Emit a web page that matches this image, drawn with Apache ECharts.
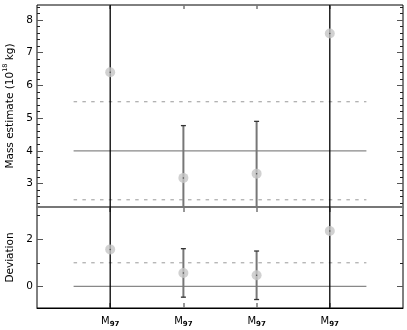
<!DOCTYPE html>
<html><head><meta charset="utf-8">
<script src="https://cdn.jsdelivr.net/npm/echarts@6/dist/echarts.min.js"></script>
<style>html,body{margin:0;padding:0;background:#fff}#c{width:407px;height:330px}</style>
</head><body><div id="c"></div>
<script>
// ---- data ----
const categories = ['M97', 'M97', 'M97', 'M97'];
const xPos = [1, 2, 3, 4];
const massValues = [6.40, 3.17, 3.30, 7.59];
const massErrors = [20, 1.60, 1.60, 20];
const devValues = [1.57, 0.57, 0.47, 2.35];
const devErrors = [20, 1.03, 1.03, 20];
const massRefSolid = [4];
const massRefDashed = [5.5, 2.5];
const devRefSolid = [0];
const devRefDashed = [1];
const refRange = [0.5, 4.5];
const massMajorTicks = [3, 4, 5, 6, 7, 8];
const massMinorTicks = [2.4, 2.6, 2.8, 3.2, 3.4, 3.6, 3.8, 4.2, 4.4, 4.6, 4.8, 5.2, 5.4, 5.6, 5.8,
  6.2, 6.4, 6.6, 6.8, 7.2, 7.4, 7.6, 7.8, 8.2, 8.4];
const devMajorTicks = [0, 2];
const devMinorTicks = [1, 3];
const massRange = [2.28, 8.46];
const devRange = [-0.92, 3.37];
const xRange = [0, 5];

// ---- styles ----
const FONT = 'DejaVu Sans';
const blackBar = [true, false, false, true];

function errorBarItem(params, api) {
  const x = api.value(0), y = api.value(1), e = api.value(2), i = api.value(3);
  const cs = params.coordSys;
  const p0 = api.coord([x, y + e]), p1 = api.coord([x, y - e]);
  const yTop = Math.max(p0[1], cs.y), yBot = Math.min(p1[1], cs.y + cs.height);
  const big = blackBar[i];
  const children = [{
    type: 'line',
    shape: { x1: p0[0], y1: yTop, x2: p0[0], y2: yBot },
    style: { stroke: big ? '#000' : '#777', lineWidth: big ? 1.3 : 2 }
  }];
  const cap = 2.5;
  if (p0[1] >= cs.y) children.push({ type: 'line', shape: { x1: p0[0] - cap, y1: p0[1], x2: p0[0] + cap, y2: p0[1] }, style: { stroke: '#333', lineWidth: 1.3 } });
  if (p1[1] <= cs.y + cs.height) children.push({ type: 'line', shape: { x1: p1[0] - cap, y1: p1[1], x2: p1[0] + cap, y2: p1[1] }, style: { stroke: '#333', lineWidth: 1.3 } });
  return { type: 'group', children };
}

function refLines(vals, xi, yi, dashed) {
  return vals.map(v => ({
    type: 'line', xAxisIndex: xi, yAxisIndex: yi, silent: true, symbol: 'none', z: 1,
    data: [[refRange[0], v], [refRange[1], v]],
    lineStyle: dashed ? { color: '#999', width: 1, type: [3.5, 5.3] } : { color: '#888', width: 1.3 }
  }));
}

function yAx(grid, pos, range, ticks, len, opts) {
  return Object.assign({
    type: 'value', gridIndex: grid, position: pos, min: range[0], max: range[1],
    axisLine: { show: false, onZero: false }, splitLine: { show: false },
    axisTick: { show: true, inside: true, length: len, customValues: ticks, lineStyle: { color: len > 4 ? '#555' : '#222', width: 1 } },
    axisLabel: { show: false }
  }, opts || {});
}

function xAx(grid, pos, opts) {
  return Object.assign({
    type: 'value', gridIndex: grid, min: xRange[0], max: xRange[1], position: pos,
    axisLine: { show: false, onZero: false }, splitLine: { show: false },
    axisTick: { show: true, inside: true, length: 4, customValues: xPos, lineStyle: { color: '#777', width: 1.5 } },
    axisLabel: { show: false }
  }, opts || {});
}

const labelStyle = { color: '#000', fontFamily: FONT, fontSize: 10.5 };

const option = {
  animation: false,
  backgroundColor: '#fff',
  grid: [
    { left: 37, top: 5, width: 366, height: 202, containLabel: false, outerBoundsMode: 'none', show: true, borderColor: '#000', borderWidth: 1 },
    { left: 37, top: 207, width: 366, height: 101, containLabel: false, outerBoundsMode: 'none', show: true, borderColor: '#000', borderWidth: 1 }
  ],
  xAxis: [
    xAx(0, 'bottom', { axisLine: { show: true, onZero: false, lineStyle: { color: '#777', width: 2 } }, axisTick: { show: false } }),
    xAx(1, 'bottom', {
      axisLine: { show: true, onZero: false, lineStyle: { color: '#000', width: 1 } },
      axisTick: { show: true, inside: true, length: 5, customValues: xPos, lineStyle: { color: '#777', width: 1.5 } },
      axisLabel: {
        show: true, customValues: xPos, margin: 6,
        formatter: v => { const i = xPos.indexOf(v); const c = categories[i] || ''; return '{m|' + c.charAt(0) + '}{s|' + c.slice(1) + '}'; },
        rich: {
          m: { fontFamily: FONT, fontSize: 10, color: '#000', lineHeight: 14, verticalAlign: 'middle' },
          s: { fontFamily: FONT, fontSize: 7, color: '#000', lineHeight: 14, verticalAlign: 'bottom', fontWeight: 'bold' }
        }
      }
    }),
    xAx(1, 'top', { axisTick: { show: true, inside: true, length: 5, customValues: xPos, lineStyle: { color: '#777', width: 1.5 } } }),
    xAx(0, 'top')
  ],
  yAxis: [
    yAx(0, 'left', massRange, massMajorTicks, 6, {
      axisLabel: Object.assign({ show: true, customValues: massMajorTicks, margin: 4 }, labelStyle),
      name: '{a|Mass estimate (10}{s|18}{a| kg)}', nameLocation: 'middle', nameGap: 14, nameRotate: 90,
      nameTextStyle: { rich: {
        a: { fontFamily: FONT, fontSize: 10.5, color: '#000', lineHeight: 16, verticalAlign: 'middle' },
        s: { fontFamily: FONT, fontSize: 6.5, color: '#000', lineHeight: 16, verticalAlign: 'top' }
      } }
    }),
    yAx(0, 'left', massRange, massMinorTicks, 3),
    yAx(0, 'right', massRange, massMajorTicks, 6),
    yAx(0, 'right', massRange, massMinorTicks, 3),
    yAx(1, 'left', devRange, devMajorTicks, 6, {
      axisLabel: Object.assign({ show: true, customValues: devMajorTicks, margin: 4 }, labelStyle),
      name: 'Deviation', nameLocation: 'middle', nameGap: 18, nameRotate: 90,
      nameTextStyle: { fontFamily: FONT, fontSize: 10.5, color: '#000' }
    }),
    yAx(1, 'left', devRange, devMinorTicks, 3),
    yAx(1, 'right', devRange, devMajorTicks, 6),
    yAx(1, 'right', devRange, devMinorTicks, 3)
  ],
  series: [
    ...refLines(massRefSolid, 0, 0, false),
    ...refLines(massRefDashed, 0, 0, true),
    ...refLines(devRefSolid, 1, 4, false),
    ...refLines(devRefDashed, 1, 4, true),
    { type: 'custom', xAxisIndex: 0, yAxisIndex: 0, z: 3, silent: true, renderItem: errorBarItem,
      data: massValues.map((v, i) => [xPos[i], v, massErrors[i], i]) },
    { type: 'custom', xAxisIndex: 1, yAxisIndex: 4, z: 3, silent: true, renderItem: errorBarItem,
      data: devValues.map((v, i) => [xPos[i], v, devErrors[i], i]) },
    { type: 'scatter', xAxisIndex: 0, yAxisIndex: 0, z: 5, silent: true, symbolSize: 10,
      itemStyle: { color: '#c6c6c6' }, data: massValues.map((v, i) => [xPos[i], v]) },
    { type: 'scatter', xAxisIndex: 1, yAxisIndex: 4, z: 5, silent: true, symbolSize: 10,
      itemStyle: { color: '#c6c6c6' }, data: devValues.map((v, i) => [xPos[i], v]) },
    { type: 'scatter', xAxisIndex: 0, yAxisIndex: 0, z: 6, silent: true, symbolSize: 1.5,
      itemStyle: { color: '#333' }, data: massValues.map((v, i) => [xPos[i], v]) },
    { type: 'scatter', xAxisIndex: 1, yAxisIndex: 4, z: 6, silent: true, symbolSize: 1.5,
      itemStyle: { color: '#333' }, data: devValues.map((v, i) => [xPos[i], v]) }
  ]
};
const chart = echarts.init(document.getElementById('c'), null, { renderer: 'canvas' });
chart.setOption(option);
</script></body></html>
